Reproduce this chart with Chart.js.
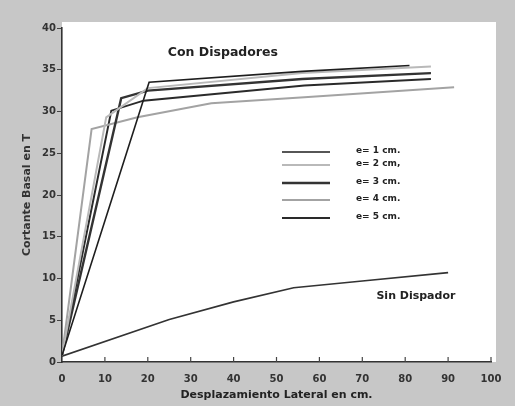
<!DOCTYPE html>
<html>
<head>
<meta charset="utf-8">
<script src="https://cdn.jsdelivr.net/npm/chart.js@4"></script>
<style>
  body { margin: 0; background: #c7c7c7; }
  canvas { display: block; }
</style>
</head>
<body>
<canvas id="myChart" width="515" height="406"></canvas>
<script>
// values
const xTicks = [0, 10, 20, 30, 40, 50, 60, 70, 80, 90, 100];
const yTicks = [0, 5, 10, 15, 20, 25, 30, 35, 40];
const seriesNames = ['e= 1 cm.', 'e= 2 cm,', 'e= 3 cm.', 'e= 4 cm.', 'e= 5 cm.'];

const e1X = [0, 20.3, 56, 81];
const e1Y = [0.8, 33.5, 34.8, 35.5];
const e2X = [0, 10.3, 20, 56, 86];
const e2Y = [0.8, 29.3, 32.8, 34.6, 35.4];
const e3X = [0, 13.8, 20, 56, 86];
const e3Y = [0.8, 31.6, 32.5, 33.9, 34.6];
const e4X = [0, 6.9, 17.6, 34.8, 56.5, 91.4];
const e4Y = [0.8, 27.9, 29.3, 31.0, 31.7, 32.9];
const e5X = [0, 11.5, 19, 56.5, 86];
const e5Y = [0.8, 30.1, 31.3, 33.1, 33.9];
const sinX = [0, 25, 40, 54, 70, 90];
const sinY = [0.7, 5.1, 7.2, 8.9, 9.7, 10.7];

const pts = (xs, ys) => xs.map((x, i) => ({ x: x, y: ys[i] }));

const FONT = 'DejaVu Sans';
const tickFont = { family: FONT, size: 10, weight: 'bold' };

const paperBg = {
  id: 'paperBg',
  beforeDraw(chart) {
    const { ctx, chartArea: a } = chart;
    ctx.save();
    ctx.fillStyle = '#c7c7c7';
    ctx.fillRect(0, 0, chart.width, chart.height);
    ctx.fillStyle = '#ffffff';
    ctx.fillRect(a.left, a.top - 6, a.right - a.left + 5, a.bottom - a.top + 6);
    ctx.restore();
  }
};

const notes = {
  id: 'notes',
  afterDraw(chart) {
    const { ctx, chartArea: a } = chart;
    const xs = chart.scales.x, ys = chart.scales.y;
    ctx.save();
    // inward ticks on the x axis
    ctx.strokeStyle = '#444';
    ctx.lineWidth = 1.2;
    xTicks.slice(1).forEach(v => {
      const px = xs.getPixelForValue(v);
      ctx.beginPath();
      ctx.moveTo(px, a.bottom);
      ctx.lineTo(px, a.bottom - 5);
      ctx.stroke();
    });
    ctx.fillStyle = '#222';
    ctx.textAlign = 'center';
    ctx.textBaseline = 'middle';
    ctx.font = 'bold 12.5px "' + FONT + '"';
    ctx.fillText('Con Dispadores', xs.getPixelForValue(37.5), ys.getPixelForValue(37));
    ctx.font = 'bold 11px "' + FONT + '"';
    ctx.fillText('Sin Dispador', xs.getPixelForValue(82.5), ys.getPixelForValue(7.9));
    // legend
    const rows = [152, 165, 183, 200, 218];
    ctx.font = 'bold 9px "' + FONT + '"';
    ctx.textAlign = 'left';
    chart.data.datasets.slice(0, 5).forEach((ds, i) => {
      ctx.strokeStyle = ds.borderColor;
      ctx.lineWidth = ds.borderWidth;
      ctx.beginPath();
      ctx.moveTo(282, rows[i]);
      ctx.lineTo(330, rows[i]);
      ctx.stroke();
      ctx.fillStyle = '#222';
      ctx.fillText(seriesNames[i], 356, rows[i] - 1);
    });
    ctx.restore();
  }
};

const styles = [
  { c: '#1e1e1e', w: 1.6 },
  { c: '#b9b9b9', w: 2 },
  { c: '#333333', w: 2.4 },
  { c: '#a3a3a3', w: 2 },
  { c: '#2a2a2a', w: 2 }
];
const allPts = [pts(e1X, e1Y), pts(e2X, e2Y), pts(e3X, e3Y), pts(e4X, e4Y), pts(e5X, e5Y)];

const datasets = allPts.map((d, i) => ({
  label: seriesNames[i],
  data: d,
  borderColor: styles[i].c,
  borderWidth: styles[i].w,
  showLine: true,
  pointRadius: 0,
  tension: 0
}));
datasets.push({
  label: 'Sin Dispador',
  data: pts(sinX, sinY),
  borderColor: '#333',
  borderWidth: 1.6,
  showLine: true,
  pointRadius: 0,
  tension: 0
});

const ctx = document.getElementById('myChart');
const chart = new Chart(ctx, {
  type: 'scatter',
  data: { datasets: datasets },
  options: {
    responsive: false,
    animation: false,
    layout: { padding: { left: 0, top: 28, right: 24, bottom: 0 } },
    plugins: {
      legend: { display: false },
      tooltip: { enabled: false }
    },
    scales: {
      x: {
        type: 'linear',
        min: 0, max: 100,
        afterFit: s => { s.height = 44; },
        afterBuildTicks: s => { s.ticks = xTicks.map(v => ({ value: v })); },
        border: { color: '#333', width: 1.6 },
        grid: { display: false },
        ticks: { color: '#333', font: tickFont, padding: 3, maxRotation: 0 },
        title: {
          display: true,
          text: 'Desplazamiento Lateral en cm.',
          color: '#222',
          font: { family: FONT, size: 11, weight: 'bold' },
          padding: { top: 0 }
        }
      },
      y: {
        type: 'linear',
        min: 0, max: 40,
        afterFit: s => { s.width = 62; },
        afterBuildTicks: s => { s.ticks = yTicks.map(v => ({ value: v })); },
        border: { color: '#333', width: 1.6 },
        grid: { drawOnChartArea: false, tickLength: 5, color: '#444', tickColor: '#444' },
        ticks: { color: '#333', font: tickFont, padding: 1 },
        title: {
          display: true,
          text: 'Cortante Basal en T',
          color: '#333',
          font: { family: FONT, size: 11, weight: 'bold' },
          padding: { top: 21 }
        }
      }
    }
  },
  plugins: [paperBg, notes]
});
</script>
</body>
</html>
